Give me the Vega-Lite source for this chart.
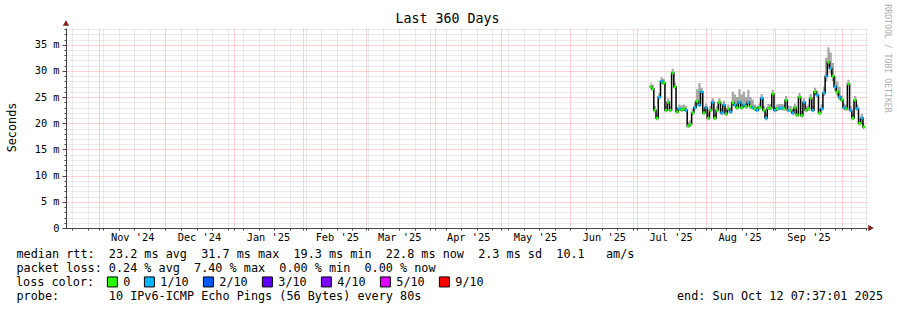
{
  "$schema": "https://vega.github.io/schema/vega-lite/v6.json",
  "width": 801,
  "height": 200,
  "autosize": {"type": "none"},
  "padding": {"left": 66, "top": 28, "right": 30, "bottom": 82},
  "background": "white",
  "config": {"view": {"stroke": null}, "font": "DejaVu Sans Mono"},
  "title": {"text": "Last 360 Days", "font": "DejaVu Sans Mono", "fontSize": 13.3, "fontWeight": "normal", "color": "#000", "anchor": "middle", "frame": "group", "dx": -19, "dy": 38, "offset": 5, "baseline": "alphabetic"},
  "data": {"values": [
    {"t":"2025-07-07T00:00:00","m":27.0,"lo":26.6,"hi":27.8,"loss":"0"},
    {"t":"2025-07-08T00:00:00","m":26.6,"lo":26.2,"hi":27.4,"loss":"0"},
    {"t":"2025-07-09T00:00:00","m":22.5,"lo":22.1,"hi":23.3,"loss":"0"},
    {"t":"2025-07-10T00:00:00","m":21.0,"lo":20.6,"hi":21.8,"loss":"0"},
    {"t":"2025-07-11T00:00:00","m":25.0,"lo":24.6,"hi":25.8,"loss":"1/10"},
    {"t":"2025-07-12T00:00:00","m":28.0,"lo":27.6,"hi":28.8,"loss":"1/10"},
    {"t":"2025-07-13T00:00:00","m":27.7,"lo":27.3,"hi":28.5,"loss":"0"},
    {"t":"2025-07-14T00:00:00","m":22.5,"lo":22.1,"hi":23.3,"loss":"0"},
    {"t":"2025-07-15T00:00:00","m":24.0,"lo":23.6,"hi":24.8,"loss":"0"},
    {"t":"2025-07-16T00:00:00","m":22.5,"lo":22.1,"hi":23.3,"loss":"0"},
    {"t":"2025-07-17T00:00:00","m":29.6,"lo":29.2,"hi":30.4,"loss":"0"},
    {"t":"2025-07-18T00:00:00","m":27.0,"lo":26.6,"hi":27.8,"loss":"0"},
    {"t":"2025-07-19T00:00:00","m":22.2,"lo":21.8,"hi":23.0,"loss":"0"},
    {"t":"2025-07-20T00:00:00","m":22.8,"lo":22.4,"hi":23.6,"loss":"1/10"},
    {"t":"2025-07-21T00:00:00","m":22.6,"lo":22.2,"hi":23.4,"loss":"0"},
    {"t":"2025-07-22T00:00:00","m":22.8,"lo":22.4,"hi":23.6,"loss":"0"},
    {"t":"2025-07-23T00:00:00","m":22.5,"lo":22.1,"hi":23.3,"loss":"1/10"},
    {"t":"2025-07-24T00:00:00","m":19.5,"lo":19.1,"hi":20.3,"loss":"0"},
    {"t":"2025-07-25T00:00:00","m":19.8,"lo":19.4,"hi":20.6,"loss":"0"},
    {"t":"2025-07-26T00:00:00","m":22.0,"lo":21.6,"hi":22.8,"loss":"0"},
    {"t":"2025-07-27T00:00:00","m":23.0,"lo":22.6,"hi":24.0,"loss":"1/10"},
    {"t":"2025-07-28T00:00:00","m":24.2,"lo":23.8,"hi":26.5,"loss":"0"},
    {"t":"2025-07-29T00:00:00","m":23.5,"lo":23.1,"hi":27.7,"loss":"1/10"},
    {"t":"2025-07-30T00:00:00","m":26.0,"lo":25.6,"hi":26.8,"loss":"1/10"},
    {"t":"2025-07-31T00:00:00","m":22.0,"lo":21.6,"hi":22.8,"loss":"0"},
    {"t":"2025-08-01T00:00:00","m":23.0,"lo":22.6,"hi":23.8,"loss":"1/10"},
    {"t":"2025-08-02T00:00:00","m":21.0,"lo":20.6,"hi":21.8,"loss":"0"},
    {"t":"2025-08-03T00:00:00","m":22.5,"lo":22.1,"hi":23.3,"loss":"0"},
    {"t":"2025-08-04T00:00:00","m":24.0,"lo":23.6,"hi":24.8,"loss":"1/10"},
    {"t":"2025-08-05T00:00:00","m":21.0,"lo":20.6,"hi":21.8,"loss":"0"},
    {"t":"2025-08-06T00:00:00","m":22.5,"lo":22.1,"hi":23.3,"loss":"0"},
    {"t":"2025-08-07T00:00:00","m":24.0,"lo":23.6,"hi":24.8,"loss":"0"},
    {"t":"2025-08-08T00:00:00","m":22.0,"lo":21.6,"hi":22.8,"loss":"1/10"},
    {"t":"2025-08-09T00:00:00","m":23.5,"lo":23.1,"hi":24.3,"loss":"1/10"},
    {"t":"2025-08-10T00:00:00","m":21.8,"lo":21.4,"hi":22.6,"loss":"0"},
    {"t":"2025-08-11T00:00:00","m":22.8,"lo":22.4,"hi":23.6,"loss":"0"},
    {"t":"2025-08-12T00:00:00","m":22.2,"lo":21.8,"hi":23.0,"loss":"1/10"},
    {"t":"2025-08-13T00:00:00","m":23.9,"lo":23.5,"hi":26.0,"loss":"0"},
    {"t":"2025-08-14T00:00:00","m":23.5,"lo":23.1,"hi":25.5,"loss":"1/10"},
    {"t":"2025-08-15T00:00:00","m":23.0,"lo":22.6,"hi":25.0,"loss":"0"},
    {"t":"2025-08-16T00:00:00","m":24.0,"lo":23.6,"hi":26.5,"loss":"1/10"},
    {"t":"2025-08-17T00:00:00","m":23.0,"lo":22.6,"hi":25.5,"loss":"0"},
    {"t":"2025-08-18T00:00:00","m":23.5,"lo":23.1,"hi":26.0,"loss":"1/10"},
    {"t":"2025-08-19T00:00:00","m":23.2,"lo":22.8,"hi":25.0,"loss":"0"},
    {"t":"2025-08-20T00:00:00","m":24.0,"lo":23.6,"hi":26.4,"loss":"1/10"},
    {"t":"2025-08-21T00:00:00","m":23.2,"lo":22.8,"hi":25.0,"loss":"0"},
    {"t":"2025-08-22T00:00:00","m":23.0,"lo":22.6,"hi":24.5,"loss":"1/10"},
    {"t":"2025-08-23T00:00:00","m":22.8,"lo":22.4,"hi":23.6,"loss":"0"},
    {"t":"2025-08-24T00:00:00","m":22.5,"lo":22.1,"hi":23.3,"loss":"1/10"},
    {"t":"2025-08-25T00:00:00","m":23.0,"lo":22.6,"hi":23.8,"loss":"0"},
    {"t":"2025-08-26T00:00:00","m":24.8,"lo":24.4,"hi":25.6,"loss":"1/10"},
    {"t":"2025-08-27T00:00:00","m":22.5,"lo":22.1,"hi":23.3,"loss":"0"},
    {"t":"2025-08-28T00:00:00","m":21.0,"lo":20.6,"hi":21.8,"loss":"1/10"},
    {"t":"2025-08-29T00:00:00","m":22.9,"lo":22.5,"hi":23.7,"loss":"0"},
    {"t":"2025-08-30T00:00:00","m":22.9,"lo":22.5,"hi":23.7,"loss":"0"},
    {"t":"2025-08-31T00:00:00","m":25.6,"lo":25.2,"hi":26.4,"loss":"0"},
    {"t":"2025-09-01T00:00:00","m":22.5,"lo":22.1,"hi":23.3,"loss":"1/10"},
    {"t":"2025-09-02T00:00:00","m":22.8,"lo":22.4,"hi":23.6,"loss":"0"},
    {"t":"2025-09-03T00:00:00","m":22.9,"lo":22.5,"hi":23.7,"loss":"1/10"},
    {"t":"2025-09-04T00:00:00","m":22.9,"lo":22.5,"hi":23.7,"loss":"1/10"},
    {"t":"2025-09-05T00:00:00","m":22.8,"lo":22.4,"hi":23.6,"loss":"0"},
    {"t":"2025-09-06T00:00:00","m":24.4,"lo":24.0,"hi":25.2,"loss":"0"},
    {"t":"2025-09-07T00:00:00","m":22.5,"lo":22.1,"hi":23.3,"loss":"1/10"},
    {"t":"2025-09-08T00:00:00","m":22.5,"lo":22.1,"hi":23.3,"loss":"0"},
    {"t":"2025-09-09T00:00:00","m":22.0,"lo":21.6,"hi":22.8,"loss":"1/10"},
    {"t":"2025-09-10T00:00:00","m":23.0,"lo":22.6,"hi":23.8,"loss":"0"},
    {"t":"2025-09-11T00:00:00","m":21.6,"lo":21.2,"hi":22.4,"loss":"0"},
    {"t":"2025-09-12T00:00:00","m":25.0,"lo":24.6,"hi":25.8,"loss":"0"},
    {"t":"2025-09-13T00:00:00","m":21.5,"lo":21.1,"hi":22.3,"loss":"0"},
    {"t":"2025-09-14T00:00:00","m":24.0,"lo":23.6,"hi":24.8,"loss":"1/10"},
    {"t":"2025-09-15T00:00:00","m":22.5,"lo":22.1,"hi":23.3,"loss":"0"},
    {"t":"2025-09-16T00:00:00","m":22.8,"lo":22.4,"hi":23.6,"loss":"0"},
    {"t":"2025-09-17T00:00:00","m":24.8,"lo":24.4,"hi":25.6,"loss":"0"},
    {"t":"2025-09-18T00:00:00","m":22.5,"lo":22.1,"hi":23.3,"loss":"1/10"},
    {"t":"2025-09-19T00:00:00","m":26.0,"lo":25.6,"hi":26.8,"loss":"0"},
    {"t":"2025-09-20T00:00:00","m":25.4,"lo":25.0,"hi":26.2,"loss":"1/10"},
    {"t":"2025-09-21T00:00:00","m":22.0,"lo":21.6,"hi":22.8,"loss":"0"},
    {"t":"2025-09-22T00:00:00","m":22.8,"lo":22.4,"hi":23.6,"loss":"1/10"},
    {"t":"2025-09-23T00:00:00","m":25.8,"lo":25.2,"hi":27.0,"loss":"1/10"},
    {"t":"2025-09-24T00:00:00","m":29.0,"lo":28.0,"hi":32.5,"loss":"1/10"},
    {"t":"2025-09-25T00:00:00","m":31.7,"lo":30.5,"hi":34.5,"loss":"0"},
    {"t":"2025-09-26T00:00:00","m":30.5,"lo":29.5,"hi":33.5,"loss":"1/10"},
    {"t":"2025-09-27T00:00:00","m":29.0,"lo":28.0,"hi":31.5,"loss":"0"},
    {"t":"2025-09-28T00:00:00","m":27.0,"lo":26.2,"hi":29.0,"loss":"1/10"},
    {"t":"2025-09-29T00:00:00","m":26.0,"lo":25.3,"hi":28.0,"loss":"0"},
    {"t":"2025-09-30T00:00:00","m":25.0,"lo":24.4,"hi":27.0,"loss":"1/10"},
    {"t":"2025-10-01T00:00:00","m":24.5,"lo":24.1,"hi":25.3,"loss":"0"},
    {"t":"2025-10-02T00:00:00","m":23.0,"lo":22.6,"hi":23.8,"loss":"1/10"},
    {"t":"2025-10-03T00:00:00","m":22.8,"lo":22.4,"hi":23.6,"loss":"0"},
    {"t":"2025-10-04T00:00:00","m":27.5,"lo":27.1,"hi":28.3,"loss":"0"},
    {"t":"2025-10-05T00:00:00","m":22.5,"lo":22.1,"hi":23.3,"loss":"1/10"},
    {"t":"2025-10-06T00:00:00","m":21.0,"lo":20.6,"hi":21.8,"loss":"0"},
    {"t":"2025-10-07T00:00:00","m":24.4,"lo":24.0,"hi":25.2,"loss":"0"},
    {"t":"2025-10-08T00:00:00","m":22.8,"lo":22.4,"hi":23.6,"loss":"1/10"},
    {"t":"2025-10-09T00:00:00","m":20.0,"lo":19.6,"hi":20.8,"loss":"0"},
    {"t":"2025-10-10T00:00:00","m":21.0,"lo":20.6,"hi":21.8,"loss":"1/10"},
    {"t":"2025-10-11T00:00:00","m":19.3,"lo":18.9,"hi":20.1,"loss":"0"}
  ]},
  "layer": [
    {
      "mark": {"type": "area", "interpolate": "step", "color": "#a8a8a8"},
      "encoding": {
        "x": {"field": "t", "type": "temporal",
          "scale": {"domain": [{"year":2024,"month":10,"date":17,"hours":7,"minutes":37,"seconds":1},{"year":2025,"month":10,"date":12,"hours":7,"minutes":37,"seconds":1}], "nice": false},
          "axis": {
            "values": [
              {"year":2024,"month":10,"date":20},{"year":2024,"month":10,"date":27},{"year":2024,"month":11,"date":1},{"year":2024,"month":11,"date":3},{"year":2024,"month":11,"date":10},{"year":2024,"month":11,"date":17},{"year":2024,"month":11,"date":24},{"year":2024,"month":12,"date":1},{"year":2024,"month":12,"date":8},{"year":2024,"month":12,"date":15},{"year":2024,"month":12,"date":22},{"year":2024,"month":12,"date":29},
              {"year":2025,"month":1,"date":1},{"year":2025,"month":1,"date":5},{"year":2025,"month":1,"date":12},{"year":2025,"month":1,"date":19},{"year":2025,"month":1,"date":26},
              {"year":2025,"month":2,"date":1},{"year":2025,"month":2,"date":2},{"year":2025,"month":2,"date":9},{"year":2025,"month":2,"date":16},{"year":2025,"month":2,"date":23},
              {"year":2025,"month":3,"date":1},{"year":2025,"month":3,"date":2},{"year":2025,"month":3,"date":9},{"year":2025,"month":3,"date":16},{"year":2025,"month":3,"date":23},{"year":2025,"month":3,"date":30},
              {"year":2025,"month":4,"date":1},{"year":2025,"month":4,"date":6},{"year":2025,"month":4,"date":13},{"year":2025,"month":4,"date":20},{"year":2025,"month":4,"date":27},
              {"year":2025,"month":5,"date":1},{"year":2025,"month":5,"date":4},{"year":2025,"month":5,"date":11},{"year":2025,"month":5,"date":18},{"year":2025,"month":5,"date":25},
              {"year":2025,"month":6,"date":1},{"year":2025,"month":6,"date":8},{"year":2025,"month":6,"date":15},{"year":2025,"month":6,"date":22},{"year":2025,"month":6,"date":29},
              {"year":2025,"month":7,"date":1},{"year":2025,"month":7,"date":6},{"year":2025,"month":7,"date":13},{"year":2025,"month":7,"date":20},{"year":2025,"month":7,"date":27},
              {"year":2025,"month":8,"date":1},{"year":2025,"month":8,"date":3},{"year":2025,"month":8,"date":10},{"year":2025,"month":8,"date":17},{"year":2025,"month":8,"date":24},{"year":2025,"month":8,"date":31},
              {"year":2025,"month":9,"date":1},{"year":2025,"month":9,"date":7},{"year":2025,"month":9,"date":14},{"year":2025,"month":9,"date":21},{"year":2025,"month":9,"date":28},
              {"year":2025,"month":10,"date":1},{"year":2025,"month":10,"date":5},{"year":2025,"month":10,"date":12}
            ],
            "tickCount": 500,
            "labelExpr": "date(datum.value) === 1 && month(datum.value) !== 9 ? timeFormat(datum.value, \"%b '%y\") : ''",
            "labelOffset": 33.5,
            "labelFont": "DejaVu Sans Mono", "labelFontSize": 10.3, "labelColor": "#000",
            "labelOverlap": false, "labelBound": false, "labelFlush": false,
            "labelPadding": 2, "tickSize": 2, "tickColor": "#444", "domainColor": "#444",
            "grid": true,
            "gridColor": {"condition": {"test": "date(datum.value) === 1", "value": "#f2a3a3"}, "value": "#d4d4d4"},
            "gridDash": [1, 1],
            "title": [
              "median rtt:\u00a0\u00a023.2 ms avg\u00a0\u00a031.7 ms max\u00a0\u00a019.3 ms min\u00a0\u00a022.8 ms now\u00a0\u00a02.3 ms sd\u00a0\u00a010.1\u00a0\u00a0\u00a0am/s",
              "packet loss: 0.24 % avg\u00a0\u00a07.40 % max\u00a0\u00a00.00 % min\u00a0\u00a00.00 % now",
              "\u200b",
              "probe:\u00a0\u00a0\u00a0\u00a0\u00a0\u00a0\u00a010 IPv6-ICMP Echo Pings (56 Bytes) every 80s\u00a0\u00a0\u00a0\u00a0\u00a0\u00a0\u00a0\u00a0\u00a0\u00a0\u00a0\u00a0\u00a0\u00a0\u00a0\u00a0\u00a0\u00a0\u00a0\u00a0\u00a0\u00a0\u00a0\u00a0\u00a0\u00a0\u00a0\u00a0\u00a0\u00a0\u00a0\u00a0\u00a0\u00a0\u00a0\u00a0end: Sun Oct 12 07:37:01 2025"
            ],
            "titleFont": "DejaVu Sans Mono", "titleFontSize": 11.8, "titleFontWeight": "normal", "titleColor": "#000",
            "titleX": -50, "titleY": 29, "titleAlign": "left", "titleAnchor": "start", "titleBaseline": "alphabetic", "titleLineHeight": 14.3
          }
        },
        "y": {"field": "lo", "type": "quantitative",
          "scale": {"domain": [0, 38.2], "nice": false, "zero": true},
          "axis": {
            "values": [0,1,2,3,4,5,6,7,8,9,10,11,12,13,14,15,16,17,18,19,20,21,22,23,24,25,26,27,28,29,30,31,32,33,34,35,36,37,38],
            "tickCount": 500,
            "labelExpr": "datum.value % 5 === 0 ? (datum.value === 0 ? '0' : datum.value + ' m') : ''",
            "labelFont": "DejaVu Sans Mono", "labelFontSize": 10.3, "labelColor": "#000",
            "labelOverlap": false, "labelBound": false, "labelPadding": 3,
            "tickSize": {"condition": {"test": "datum.value % 5 === 0", "value": 4}, "value": 2},
            "tickColor": "#444", "domainColor": "#444",
            "grid": true,
            "gridColor": {"condition": {"test": "datum.value % 5 === 0", "value": "#f2a3a3"}, "value": "#d4d4d4"},
            "gridDash": [1, 1],
            "title": "Seconds",
            "titleFont": "DejaVu Sans Mono", "titleFontSize": 11.8, "titleFontWeight": "normal", "titleColor": "#000",
            "titleAngle": 270, "titleX": -55, "titleY": 99, "titleAlign": "center", "titleBaseline": "middle"
          }
        },
        "y2": {"field": "hi"}
      }
    },
    {
      "mark": {"type": "line", "interpolate": "step", "color": "#000", "strokeWidth": 1.5},
      "encoding": {
        "x": {"field": "t", "type": "temporal"},
        "y": {"field": "m", "type": "quantitative", "axis": null}
      }
    },
    {
      "mark": {"type": "point", "shape": "square", "filled": true, "size": 7, "opacity": 1},
      "encoding": {
        "x": {"field": "t", "type": "temporal"},
        "y": {"field": "m", "type": "quantitative", "axis": null},
        "color": {"field": "loss", "type": "nominal",
          "scale": {"domain": ["0", "1/10", "2/10", "3/10", "4/10", "5/10", "9/10"], "range": ["#26ff00", "#00b8ff", "#0059ff", "#5e00ff", "#7e00ff", "#dd00ff", "#ff0000"]},
          "legend": {
            "title": "loss color:", "orient": "none", "legendX": -50, "legendY": 248, "direction": "horizontal",
            "titleOrient": "left", "titleFont": "DejaVu Sans Mono", "titleFontSize": 11.8, "titleFontWeight": "normal", "titleColor": "#000", "titlePadding": 11.5,
            "labelFont": "DejaVu Sans Mono", "labelFontSize": 11.8, "labelColor": "#000", "labelOffset": 5,
            "symbolType": "square", "symbolSize": 100, "symbolStrokeColor": "#000", "symbolStrokeWidth": 1, "symbolOpacity": 1,
            "columnPadding": 11, "padding": 0, "offset": 0
          }
        }
      }
    },
    {
      "data": {"values": [{}]},
      "mark": {"type": "point", "shape": "triangle-up", "filled": true, "color": "#7f1f1f", "size": 40, "opacity": 1, "yOffset": -5},
      "encoding": {
        "x": {"datum": {"year":2024,"month":10,"date":17,"hours":7,"minutes":37,"seconds":1}, "type": "temporal"},
        "y": {"datum": 38.2, "type": "quantitative", "axis": null}
      }
    },
    {
      "data": {"values": [{}]},
      "mark": {"type": "point", "shape": "triangle-right", "filled": true, "color": "#7f1f1f", "size": 40, "opacity": 1, "xOffset": 4},
      "encoding": {
        "x": {"datum": {"year":2025,"month":10,"date":12,"hours":7,"minutes":37,"seconds":1}, "type": "temporal"},
        "y": {"datum": 0, "type": "quantitative",
          "axis": {"orient": "right", "domain": false, "ticks": false, "labels": false, "grid": false,
            "title": "RRDTOOL / TOBI OETIKER", "titleFont": "DejaVu Sans Mono", "titleFontSize": 8.2, "titleFontWeight": "normal", "titleColor": "#b0b0b0",
            "titleAngle": 90, "titleX": 19, "titleY": 30, "titleAlign": "center", "titleBaseline": "middle"}
        }
      }
    }
  ],
  "resolve": {"axis": {"y": "independent"}}
}
